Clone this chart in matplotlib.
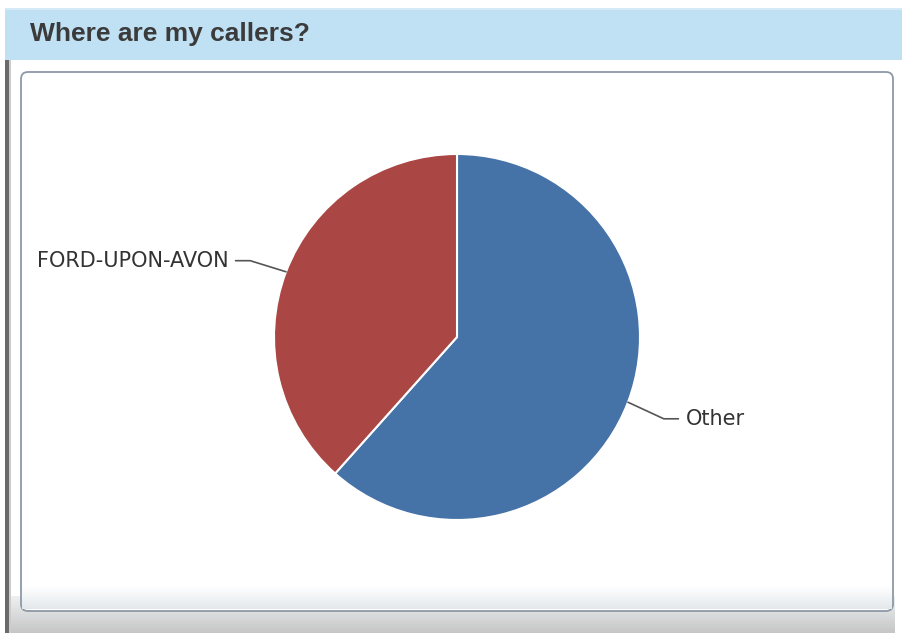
import numpy as np
import matplotlib
matplotlib.use("Agg")
import matplotlib.pyplot as plt
from matplotlib.patches import Rectangle, FancyBboxPatch
from matplotlib.colors import LinearSegmentedColormap

# ---- data ----
title = "Where are my callers?"
categories = ["Other", "FORD-UPON-AVON"]
values = [61.6, 38.4]
colors = ["#4572a7", "#aa4643"]

W, H = 903, 633
fig = plt.figure(figsize=(W / 100, H / 100), dpi=100)
fig.patch.set_facecolor("white")

def px(x0, y0, x1, y1):
    # pixel box (top-left origin) -> figure fraction (left, bottom, w, h)
    return x0 / W, 1 - y1 / H, (x1 - x0) / W, (y1 - y0) / H

# background decorations
bg = fig.add_axes([0, 0, 1, 1])
bg.set_xlim(0, W)
bg.set_ylim(H, 0)
bg.axis("off")
# header band
bg.add_patch(Rectangle((5, 8), W - 5, 52, facecolor="#bfe1f3", edgecolor="none"))
bg.add_patch(Rectangle((5, 8), W - 5, 2, facecolor="#d4eaf6", edgecolor="none"))
# bottom grey gradient (light at top, darker at bottom)
grad = np.linspace(0, 1, 60).reshape(-1, 1)
bg.imshow(grad, extent=(8, 895, 633, 596),
          cmap=LinearSegmentedColormap.from_list("g", ["#eef0f2", "#c6c6c6"]),
          aspect="auto", zorder=1)
# left dark bar
bg.add_patch(Rectangle((5, 60), 4, H - 60, facecolor="#6a6a6a", edgecolor="none", zorder=2))
bg.add_patch(Rectangle((9, 60), 2, H - 60, facecolor="#cccccc", edgecolor="none", zorder=2))
# panel box
panel = FancyBboxPatch((21, 72), 872, 539, boxstyle="round,pad=0,rounding_size=7",
                       facecolor="white", edgecolor="#8d99a6", linewidth=1.3, zorder=3)
bg.add_patch(panel)
# slight gradient at panel bottom (white -> pale grey-blue)
bg.imshow(grad, extent=(22, 892, 609, 586),
          cmap=LinearSegmentedColormap.from_list("g2", ["#ffffff", "#e3e8ec"]),
          aspect="auto", zorder=3.5)
bg.text(30, 34, title, fontsize=19, fontweight="bold", color="#3b3b3b",
        family="Liberation Sans", va="center", ha="left", zorder=5)

# pie axes: center (457,337), radius 183 px
cx, cy, R = 457, 337, 183
ax = fig.add_axes(px(cx - R, cy - R, cx + R, cy + R))
ax.set_facecolor("none")
wedges, _ = ax.pie(values, colors=colors, startangle=90, counterclock=False,
                   radius=1.0, wedgeprops=dict(edgecolor="white", linewidth=1.5))
ax.set_xlim(-1, 1)
ax.set_ylim(-1, 1)
ax.set_aspect("equal")
ax.axis("off")

for w, lab in zip(wedges, categories):
    ang = np.deg2rad((w.theta1 + w.theta2) / 2)
    c, s = np.cos(ang), np.sin(ang)
    side = 1 if c >= 0 else -1
    x0, y0 = c, s
    ye = s * 1.17 + (-0.03 if s < 0 else 0.0)
    xm = side * 1.13
    xe = side * 1.21
    ax.plot([x0, xm, xe], [y0, ye, ye], color="#555555", lw=1.2,
            clip_on=False, solid_joinstyle="round", solid_capstyle="round")
    ax.text(side * 1.25, ye, lab, ha="left" if side > 0 else "right",
            va="center", fontsize=15, color="#333333", family="DejaVu Sans")

fig.savefig("out.png", dpi=100, facecolor="white")
